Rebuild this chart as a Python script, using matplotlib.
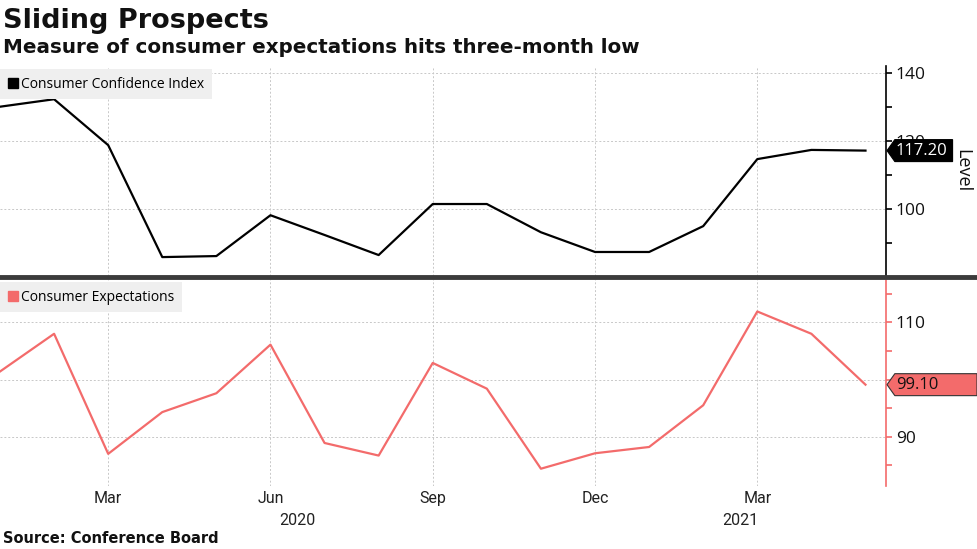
import matplotlib
matplotlib.use("Agg")
import matplotlib.pyplot as plt
from matplotlib.lines import Line2D
from matplotlib.patches import Polygon

# monthly readings, Jan 2020 .. May 2021
months = list(range(17))
confidence = [130.1, 132.3, 118.8, 85.9, 86.2, 98.2, 92.4, 86.5, 101.5,
              101.5, 93.2, 87.4, 87.4, 95.0, 114.7, 117.4, 117.2]
expectations = [101.4, 108.0, 87.0, 94.3, 97.6, 106.1, 88.9, 86.7, 102.9,
                98.4, 84.4, 87.1, 88.2, 95.5, 111.9, 108.0, 99.1]
tick_pos = [2, 5, 8, 11, 14]
tick_labels = ["Mar", "Jun", "Sep", "Dec", "Mar"]
years = [(5.5, "2020"), (13.68, "2021")]

black = "#000000"
salmon = "#f36b6b"
grid_c = "#c8c8c8"
num_font = ["Open Sans", "DejaVu Sans"]
narrow = ["Liberation Sans Narrow", "Roboto", "DejaVu Sans"]

fig = plt.figure(figsize=(9.77, 5.49), dpi=100)
ax1 = fig.add_axes([0.0, 0.497, 0.9069, 0.383])
ax2 = fig.add_axes([0.0, 0.115, 0.9069, 0.377])

xlim = (0, 16.38)

def style(ax, color, ylim, major, minor):
    ax.set_xlim(*xlim)
    ax.set_ylim(*ylim)
    ax.yaxis.tick_right()
    ax.set_yticks(major)
    ax.set_yticks(minor, minor=True)
    ax.set_xticks(tick_pos)
    for s in ["top", "left", "bottom"]:
        ax.spines[s].set_visible(False)
    ax.spines["right"].set_color(color)
    ax.spines["right"].set_linewidth(1.2)
    ax.tick_params(axis="y", which="both", colors=color, direction="out",
                   labelcolor="#111111", labelsize=12.5, length=4, width=1.2, pad=3)
    for lab in ax.get_yticklabels():
        lab.set_family(num_font)
    ax.tick_params(axis="x", length=0)
    ax.grid(True, which="major", color=grid_c, linestyle=(0, (2, 2)), linewidth=0.7)

style(ax1, black, (80.3, 142.1), [100, 120, 140], [90, 110, 130])
style(ax2, salmon, (81.4, 117.6), [90, 100, 110], [85, 95, 105, 115])
ax1.tick_params(axis="x", labelbottom=False)
ax2.set_xticklabels(tick_labels, fontsize=11.5, color="#222222", family=narrow)
ax2.tick_params(axis="x", pad=4)
for x, y in years:
    ax2.text(x, -0.13, y, transform=ax2.get_xaxis_transform(), ha="center", va="top",
             fontsize=11.5, color="#222222", family=narrow)

ax1.plot(months, confidence, color=black, linewidth=1.6, clip_on=False)
ax2.plot(months, expectations, color=salmon, linewidth=1.6, clip_on=False)

# legends
for ax, color, label in [(ax1, black, "Consumer Confidence Index"),
                         (ax2, salmon, "Consumer Expectations")]:
    h = Line2D([], [], marker="s", color=color, linestyle="none", markersize=6.5)
    leg = ax.legend([h], [label], loc="upper left", bbox_to_anchor=(0, 0.985),
                    frameon=True, fontsize=10, handletextpad=0.15, borderpad=0.55,
                    handlelength=0.8, borderaxespad=0, fancybox=False,
                    prop={"family": num_font, "size": 10})
    leg.get_frame().set_facecolor("#efefef")
    leg.get_frame().set_edgecolor("none")
    leg.get_frame().set_alpha(1)

fig.text(0.985, 0.69, "Level", rotation=270, ha="center", va="center", fontsize=13,
         color="#111111", family=num_font)

# last value tags
def tag(ax, value, face, txtcolor, right):
    y = ax.transData.transform((0, value))[1]
    y = fig.transFigure.inverted().transform((0, y))[1]
    x0 = 0.9079
    hh = 0.02
    pts = [(x0, y), (x0 + 0.008, y + hh), (right, y + hh), (right, y - hh), (x0 + 0.008, y - hh)]
    fig.patches.append(Polygon(pts, closed=True, transform=fig.transFigure,
                               facecolor=face, edgecolor="#333333" if face != black else black,
                               linewidth=0.8, zorder=5))
    fig.text(x0 + 0.009, y, f"{value:.2f}", ha="left", va="center", color=txtcolor,
             fontsize=12, family=num_font, zorder=6)

tag(ax1, confidence[-1], black, "white", 0.975)
tag(ax2, expectations[-1], salmon, "#111111", 1.0)

# divider between panels
fig.add_artist(Line2D([0, 1], [0.4955, 0.4955], transform=fig.transFigure,
                      color="#3b3b3b", linewidth=3.5))

fig.text(0.003, 0.985, "Sliding Prospects", ha="left", va="top", fontsize=19.5,
         fontweight="bold", color="#111111")
fig.text(0.003, 0.93, "Measure of consumer expectations hits three-month low", ha="left",
         va="top", fontsize=14.3, fontweight="bold", color="#111111")
fig.text(0.003, 0.005, "Source: Conference Board", ha="left", va="bottom", fontsize=10.5,
         fontweight="bold", color="#111111")

fig.savefig("out.png", dpi=100)
